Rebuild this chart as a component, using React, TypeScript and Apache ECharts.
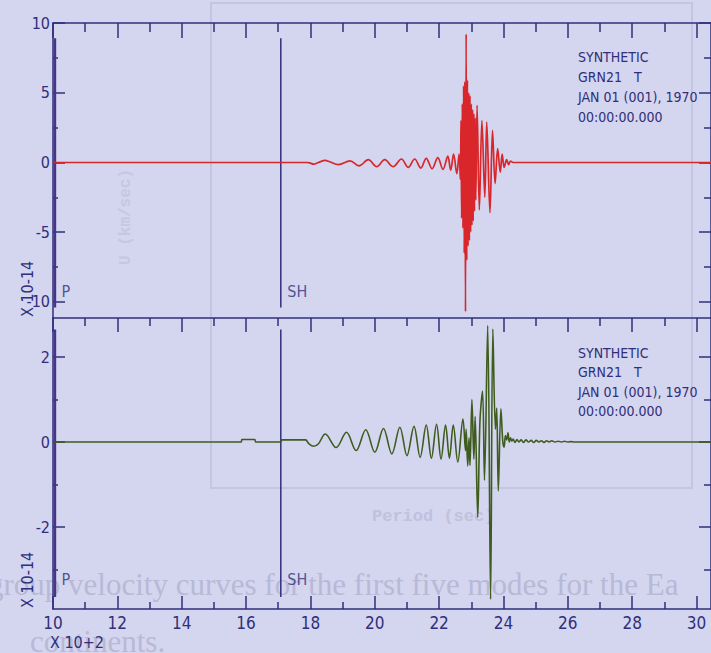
import React, { useEffect, useRef } from 'react';
import * as echarts from 'echarts';

// ---- data (x in units of 10^2 s, y in units of 10^-14) ----
const xRange = [10, 30.45];
const topRange = [-11.15, 10];
const botRange = [-3.93, 2.92];

const xMajorTicks = [10, 12, 14, 16, 18, 20, 22, 24, 26, 28, 30];
const xMinorTicks = [11, 13, 15, 17, 19, 21, 23, 25, 27, 29];
const topMajorTicks = [-10, -5, 0, 5, 10];
const topMinorTicks = [-7.5, -2.5, 2.5, 7.5];
const botMajorTicks = [-2, 0, 2];
const botMinorTicks = [-3, -1, 1];

const pickNames = ['P', 'SH'];
const pickTimes = [10.06, 17.08];
const topPickExtent = [8.9, -10.4];
const botPickExtent = [2.65, -3.65];

const headerLines = ['SYNTHETIC', 'GRN21   T', 'JAN 01 (001), 1970', '00:00:00.000'];

const topTrace: number[][] = [
  [10, 0], [17.9, 0], [18.0, -0.05], [18.1, -0.12], [18.25, 0], [18.46, 0.15], [18.6, 0.05],
  [18.87, -0.15], [19.23, 0.12], [19.51, -0.25], [19.8, 0.2], [20.06, -0.3], [20.31, 0.2],
  [20.57, -0.3], [20.83, 0.25], [21.04, -0.35], [21.24, 0.25], [21.43, -0.4], [21.6, 0.3],
  [21.78, -0.45], [21.96, 0.35], [22.12, -0.5], [22.27, 0.45], [22.36, -0.55], [22.45, 0.6],
  [22.55, -0.8], [22.62, 0.6], [22.66, -1.2],
  [22.68, 3.0], [22.7, -4.0], [22.72, 4.2], [22.74, -4.7], [22.76, 5.5], [22.78, -6.5],
  [22.8, 5.8], [22.82, -10.7], [22.84, 9.2], [22.86, -7.0], [22.88, 5.9], [22.9, -6.0],
  [22.92, 5.0], [22.94, -5.6], [22.96, 4.8], [22.98, -5.0], [23.0, 4.2], [23.02, -4.5],
  [23.04, 3.8], [23.06, -4.2], [23.08, 3.5], [23.1, -3.5], [23.12, 3.2], [23.14, -2.7],
  [23.18, 4.1], [23.25, -3.4], [23.33, 3.0], [23.42, -2.5], [23.48, 2.9], [23.58, -3.6],
  [23.66, 2.3], [23.74, -1.5], [23.82, 1.0], [23.9, -0.7], [23.96, 0.6], [24.02, -0.35],
  [24.1, 0.2], [24.16, -0.15], [24.22, 0.1], [24.3, 0], [30.45, 0],
];

const bottomTrace: number[][] = [
  [10, 0], [15.85, 0], [15.87, 0.06], [16.27, 0.06], [16.3, 0], [17.08, 0], [17.1, 0.05],
  [17.85, 0.05], [17.95, -0.04], [18.1, -0.1], [18.25, -0.04],
  [18.46, 0.19], [18.8, -0.13], [19.12, 0.23], [19.42, -0.2], [19.72, 0.29], [20.0, -0.24],
  [20.27, 0.32], [20.53, -0.28], [20.78, 0.35], [21.0, -0.32], [21.22, 0.37], [21.41, -0.36],
  [21.6, 0.4], [21.76, -0.38], [21.92, 0.42], [22.06, -0.4], [22.2, 0.4], [22.32, -0.38],
  [22.44, 0.4], [22.58, -0.47], [22.74, 0.54], [22.82, -0.2], [22.84, 0.3], [22.89, -0.56],
  [22.93, 0.1], [22.96, -0.55], [23.02, 1.0], [23.08, -0.4], [23.12, 0.6], [23.2, -1.77],
  [23.27, 0.5], [23.35, 1.2], [23.41, -0.9], [23.51, 2.74], [23.6, -3.7], [23.67, 2.66],
  [23.75, 0.3], [23.79, 0.8], [23.84, -1.15], [23.92, 0.78], [23.98, 0.0], [24.02, -0.12],
  [24.06, 0.15], [24.1, 0.05], [24.14, 0.22], [24.18, 0.0], [24.22, 0.1], [24.26, 0.02],
  [24.3, 0.07], [24.36, -0.01], [24.42, 0.06], [24.48, 0.0], [24.55, 0.05], [24.62, -0.01],
  [24.7, 0.05], [24.78, 0.0], [24.86, 0.04], [24.94, -0.01], [25.02, 0.04], [25.1, 0.0],
  [25.18, 0.03], [25.26, -0.01], [25.34, 0.03], [25.42, 0.0], [25.5, 0.03], [25.6, 0.0],
  [25.7, 0.02], [25.8, 0.0], [25.9, 0.02], [26.0, 0.0], [26.1, 0.01], [26.2, 0], [30.45, 0],
];

// ---- styles ----
const BG = '#d4d5ef';
const NAVY = '#2f2f7a';
const RED = '#d8262b';
const GREEN = '#3e5c1e';
const FAINT = '#b8b9d6';
const FONT = '"Liberation Sans Narrow", "DejaVu Sans Condensed", sans-serif';

function xAx(gridIndex: number, position: string, ticks: number[], length: number, showLine: boolean, labels = false) {
  return {
    type: 'value', gridIndex, position, min: xRange[0], max: xRange[1],
    axisLine: { show: showLine, onZero: false, lineStyle: { color: NAVY, width: 1.5 } },
    axisTick: { show: ticks.length > 0, inside: true, length, customValues: ticks, lineStyle: { color: NAVY, width: 1.5 } },
    axisLabel: labels
      ? { show: true, customValues: ticks, color: NAVY, fontFamily: FONT, fontSize: 17, margin: 5 }
      : { show: false },
    splitLine: { show: false },
  };
}

function yAx(gridIndex: number, position: string, range: number[], ticks: number[], length: number, showLine: boolean, labels = false) {
  return {
    type: 'value', gridIndex, position, min: range[0], max: range[1],
    axisLine: { show: showLine, onZero: false, lineStyle: { color: NAVY, width: 1.5 } },
    axisTick: { show: true, inside: true, length, customValues: ticks, lineStyle: { color: NAVY, width: 1.5 } },
    axisLabel: labels
      ? { show: true, customValues: ticks, color: NAVY, fontFamily: FONT, fontSize: 16, margin: 3 }
      : { show: false },
    splitLine: { show: false },
  };
}

function pickSeries(xAxisIndex: number, yAxisIndex: number, extent: number[], labelOffset: number) {
  const out: any[] = [];
  pickNames.forEach((name, i) => {
    out.push({
      type: 'line', xAxisIndex, yAxisIndex, symbol: 'none', silent: true,
      lineStyle: { color: name === 'P' ? '#4a3488' : NAVY, width: name === 'P' ? 2.5 : 1.5 },
      data: [[pickTimes[i], extent[0]], [pickTimes[i], extent[1]]],
    });
    out.push({
      type: 'scatter', xAxisIndex, yAxisIndex, symbolSize: 1, silent: true,
      itemStyle: { color: 'rgba(0,0,0,0)' },
      label: {
        show: true, formatter: name, position: 'right', offset: [1, labelOffset],
        color: NAVY, fontFamily: FONT, fontSize: 16,
      },
      data: [[pickTimes[i], extent[1]]],
    });
  });
  return out;
}

export default function App() {
  const ref = useRef<HTMLDivElement>(null);
  useEffect(() => {
    if (!ref.current) return;
    const chart = echarts.init(ref.current, undefined, { renderer: 'svg' });
    const option: any = {
      animation: false,
      backgroundColor: BG,
      grid: [
        { left: 53, top: 23, width: 662, height: 295 },
        { left: 53, top: 318, width: 662, height: 291 },
      ],
      xAxis: [
        xAx(0, 'top', xMajorTicks, 15, true),
        xAx(0, 'top', xMinorTicks, 9, false),
        xAx(0, 'bottom', [], 0, true),
        xAx(1, 'top', xMajorTicks, 14, false),
        xAx(1, 'top', xMinorTicks, 8, false),
        xAx(1, 'bottom', xMajorTicks, 13, true, true),
        xAx(1, 'bottom', xMinorTicks, 7, false),
      ],
      yAxis: [
        yAx(0, 'left', topRange, topMajorTicks, 12, true, true),
        yAx(0, 'left', topRange, topMinorTicks, 5, false),
        yAx(0, 'right', topRange, topMajorTicks, 12, true),
        yAx(0, 'right', topRange, topMinorTicks, 7, false),
        yAx(1, 'left', botRange, botMajorTicks, 12, true, true),
        yAx(1, 'left', botRange, botMinorTicks, 5, false),
        yAx(1, 'right', botRange, botMajorTicks, 12, true),
        yAx(1, 'right', botRange, botMinorTicks, 7, false),
      ],
      series: [
        ...pickSeries(0, 0, topPickExtent, -16),
        ...pickSeries(3, 4, botPickExtent, -18),
        {
          type: 'line', xAxisIndex: 0, yAxisIndex: 0, symbol: 'none', silent: true, smooth: 0.35,
          lineStyle: { color: RED, width: 1.7 }, data: topTrace,
        },
        {
          type: 'line', xAxisIndex: 3, yAxisIndex: 4, symbol: 'none', silent: true, smooth: 0.35,
          lineStyle: { color: GREEN, width: 1.6 }, data: bottomTrace,
        },
      ],
      graphic: [
        { type: 'rect', silent: true, z: -10, shape: { x: 211, y: 3, width: 481, height: 485 },
          style: { fill: 'none', stroke: '#c4c5e1', lineWidth: 2 } },
        { type: 'text', silent: true, z: -10, x: -12, y: 569,
          style: { text: 'group velocity curves for the first five modes for the Ea', fill: FAINT, font: '31px "Liberation Serif", serif' } },
        { type: 'text', silent: true, z: -10, x: 30, y: 626,
          style: { text: 'continents.', fill: FAINT, font: '31px "Liberation Serif", serif' } },
        { type: 'text', silent: true, z: -10, x: 372, y: 508,
          style: { text: 'Period (sec)', fill: '#c0c1dd', font: 'bold 17px "Liberation Mono", monospace' } },
        { type: 'text', silent: true, z: -10, x: 118, y: 265, rotation: Math.PI / 2,
          style: { text: 'U (km/sec)', fill: '#c6c7e2', font: 'bold 16px "Liberation Mono", monospace' } },
        { type: 'text', x: 578, y: 47,
          style: { text: headerLines.join('\n'), fill: NAVY, font: '14px ' + FONT, lineHeight: 20 } },
        { type: 'text', x: 578, y: 343,
          style: { text: headerLines.join('\n'), fill: NAVY, font: '14px ' + FONT, lineHeight: 19.5 } },
        { type: 'text', x: 19, y: 317, rotation: Math.PI / 2,
          style: { text: 'X 10-14', fill: NAVY, font: '16px ' + FONT } },
        { type: 'text', x: 19, y: 608, rotation: Math.PI / 2,
          style: { text: 'X 10-14', fill: NAVY, font: '16px ' + FONT } },
        { type: 'text', x: 50, y: 634,
          style: { text: 'X 10+2', fill: NAVY, font: '16px ' + FONT } },
      ],
    };
    chart.setOption(option);
    return () => chart.dispose();
  }, []);
  return <div ref={ref} style={{ position: 'absolute', left: 0, top: 0, width: 711, height: 653 }} />;
}
